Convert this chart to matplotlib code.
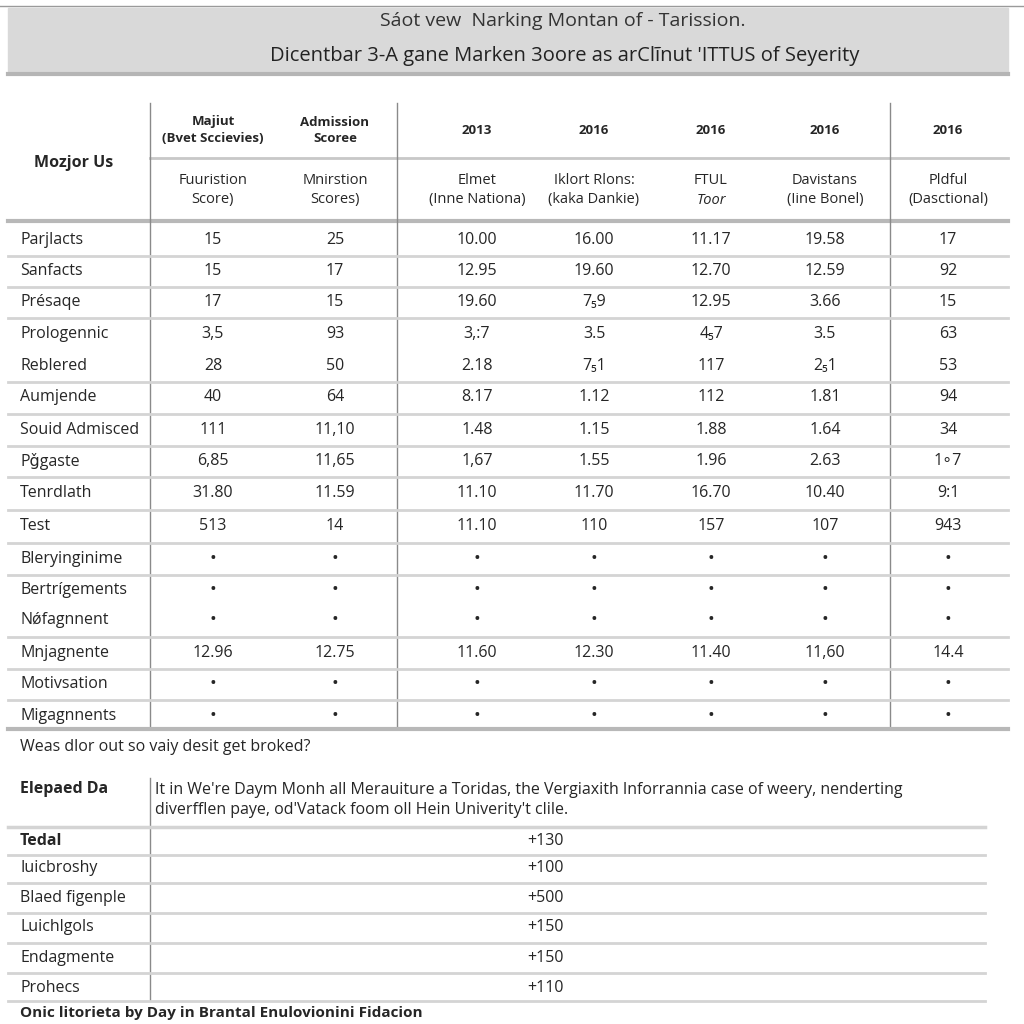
#!/usr/bin/env python

import matplotlib.pyplot as plt
from matplotlib.patches import Rectangle

plt.rcParams['font.family'] = ['Open Sans', 'DejaVu Sans']

# titles
title_1 = 'Sáot vew  Narking Montan of - Tarission.'
title_2 = 'Dicentbar 3-A gane Marken 3oore as arClĩnut \'ITTUS of Seyerity'

# header texts
corner_label = 'Mozjor Us'
header_top = ['Majiut\n(Bvet Sccievies)', 'Admission\nScoree', '2013', '2016', '2016', '2016', '2016']
header_sub = ['Fuuristion\nScore)', 'Mnirstion\nScores)', 'Elmet\n(Inne Nationa)',
              'Iklort Rlons:\n(kaka Dankie)', 'FTUL\nToor', 'Davistans\n(Iine Bonel)',
              'Pldful\n(Dasctional)']

# main table
row_labels = ['Parjlacts', 'Sanfacts', 'Présaqe', 'Prologennic', 'Reblered', 'Aumjende',
              'Souid Admisced', 'Pǧgaste', 'Tenrdlath', 'Test', 'Bleryinginime',
              'Bertrígements', 'Nǿfagnnent', 'Mnjagnente', 'Motivsation', 'Migagnnents']
col_1 = ['15', '15', '17', '3,5', '28', '40', '111', '6,85', '31.80', '513', '•', '•', '•', '12.96', '•', '•']
col_2 = ['25', '17', '15', '93', '50', '64', '11,10', '11,65', '11.59', '14', '•', '•', '•', '12.75', '•', '•']
col_3 = ['10.00', '12.95', '19.60', '3,:7', '2.18', '8.17', '1.48', '1,67', '11.10', '11.10', '•', '•', '•', '11.60', '•', '•']
col_4 = ['16.00', '19.60', '7₅9', '3.5', '7₅1', '1.12', '1.15', '1.55', '11.70', '110', '•', '•', '•', '12.30', '•', '•']
col_5 = ['11.17', '12.70', '12.95', '4₅7', '117', '112', '1.88', '1.96', '16.70', '157', '•', '•', '•', '11.40', '•', '•']
col_6 = ['19.58', '12.59', '3.66', '3.5', '2₅1', '1.81', '1.64', '2.63', '10.40', '107', '•', '•', '•', '11,60', '•', '•']
col_7 = ['17', '92', '15', '63', '53', '94', '34', '1∘7', '9:1', '943', '•', '•', '•', '14.4', '•', '•']
columns = [col_1, col_2, col_3, col_4, col_5, col_6, col_7]
# rows that have no separator line below them
no_line_after = ['Prologennic', 'Bertrígements']

question = 'Weas dlor out so vaiy desit get broked?'

# lower table
note_label = 'Elepaed Da'
note_text = ('It in We\'re Daym Monh all Merauiture a Toridas, the Vergiaxith Inforrannia case of weery, nenderting\n'
             'diverfflen paye, od\'Vatack foom oll Hein Univerity\'t clile.')
lower_labels = ['Tedal', 'Iuicbroshy', 'Blaed figenple', 'Luichlgols', 'Endagmente', 'Prohecs']
lower_values = ['+130', '+100', '+500', '+150', '+150', '+110']

footer = 'Onic litorieta by Day in Brantal Enulovionini Fidacion'

fig = plt.figure(figsize=(10.24, 10.24), dpi=100)
ax = fig.add_axes([0, 0, 1, 1])
ax.set_xlim(0, 1024)
ax.set_ylim(1024, 0)
ax.axis('off')

text_c = '#262626'
line_c = '#d4d4d4'
vline_c = '#8a8a8a'
fs = 11.5

# title banner
ax.plot([0, 1024], [6, 6], color='#9a9a9a', lw=1)
ax.add_patch(Rectangle((8, 8), 1000, 66, color='#d9d9d9', zorder=0))
ax.plot([8, 1008], [74, 74], color='#b5b5b5', lw=3)
ax.text(563, 21, title_1, ha='center', va='center', fontsize=14, color='#333333')
ax.text(565, 56, title_2, ha='center', va='center', fontsize=14.5, color='#222222')

# header
col_x = [213, 335, 477, 594, 711, 825, 948]
ax.text(74, 163, corner_label, ha='center', va='center', fontsize=11.5, weight='bold', color=text_c)
for x, t in zip(col_x, header_top):
    ax.text(x, 130, t, ha='center', va='center', fontsize=9.5, weight='bold',
            color=text_c, linespacing=1.3)
for i, (x, t) in enumerate(zip(col_x, header_sub)):
    if i == 4:
        top, bottom = t.split('\n')
        ax.text(x, 180, top, ha='center', va='center', fontsize=10.5, color=text_c)
        ax.text(x, 200, bottom, ha='center', va='center', fontsize=10.5, color=text_c, style='italic')
        continue
    ax.text(x, 190, t, ha='center', va='center', fontsize=10.5, color=text_c,
            linespacing=1.3)

ax.plot([150, 1008], [158, 158], color='#c8c8c8', lw=2)
ax.plot([8, 1008], [221, 221], color='#b8b8b8', lw=3)
for x in [150, 397, 890]:
    ax.plot([x, x], [103, 728], color=vline_c, lw=1)

# body rows
row_y = [240, 271, 302, 334, 366, 397, 430, 461, 493, 526, 559, 590, 620, 653, 684, 716]
for i, (lab, y) in enumerate(zip(row_labels, row_y)):
    ax.text(20, y, lab, ha='left', va='center', fontsize=fs, color=text_c)
    for x, col in zip(col_x, columns):
        val = col[i]
        if val == '•':
            ax.text(x, y, val, ha='center', va='center', fontsize=13, color=text_c)
        else:
            ax.text(x, y, val, ha='center', va='center', fontsize=fs, color=text_c)
    if i < len(row_y) - 1 and lab not in no_line_after:
        yl = (y + row_y[i + 1]) / 2
        ax.plot([8, 1008], [yl, yl], color=line_c, lw=2)
ax.plot([8, 1008], [729, 729], color='#b8b8b8', lw=3)

ax.text(20, 747, question, ha='left', va='center', fontsize=fs, color=text_c)

# lower table
ax.text(20, 789, note_label, ha='left', va='center', fontsize=fs, weight='bold', color=text_c)
ax.text(155, 800, note_text, ha='left', va='center', fontsize=fs, color=text_c, linespacing=1.4)
ax.plot([150, 150], [778, 1000], color=vline_c, lw=1)
ax.plot([8, 985], [827, 827], color=line_c, lw=2.5)

lower_y = [841, 868, 898, 927, 958, 988]
for i, (lab, val, y) in enumerate(zip(lower_labels, lower_values, lower_y)):
    weight = 'bold' if i == 0 else 'normal'
    ax.text(20, y, lab, ha='left', va='center', fontsize=fs, weight=weight, color=text_c)
    ax.text(545, y, val, ha='center', va='center', fontsize=fs, color=text_c)
    yl = (y + lower_y[i + 1]) / 2 if i < len(lower_y) - 1 else 1001
    ax.plot([8, 985], [yl, yl], color=line_c, lw=2)

ax.text(20, 1013, footer, ha='left', va='center', fontsize=11, weight='bold', color=text_c)

fig.savefig('out.png', dpi=100, facecolor='white')
